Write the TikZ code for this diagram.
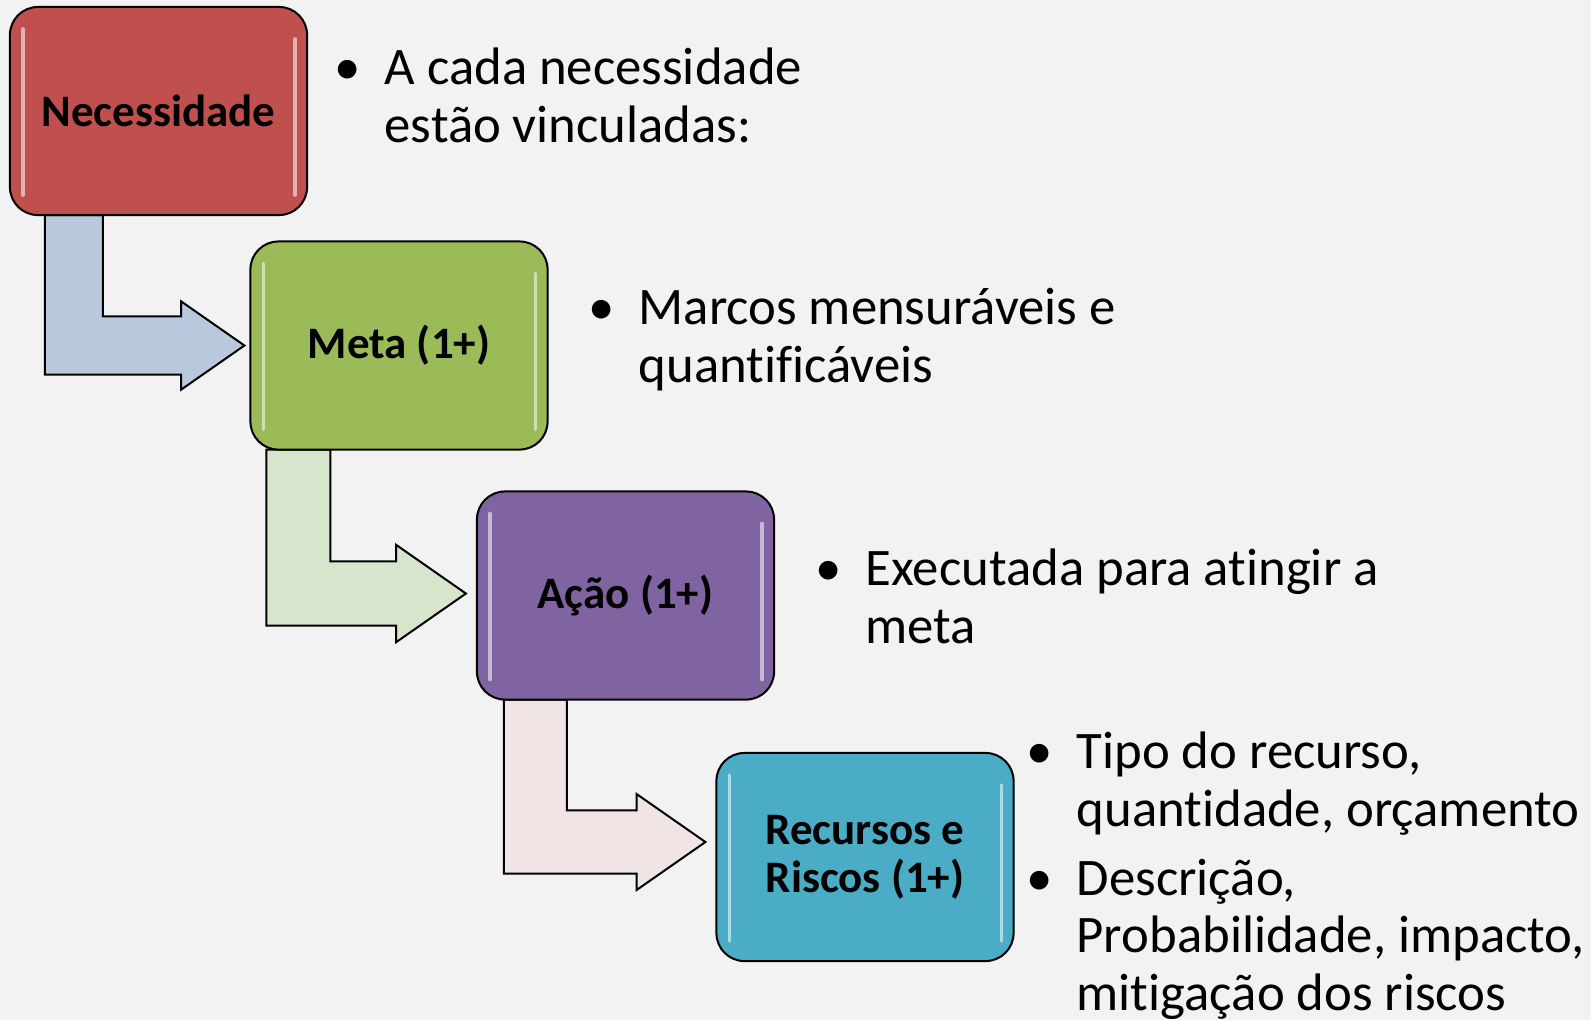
\documentclass[tikz,border=0pt]{standalone}
\usepackage{fontspec}
\setmainfont{Carlito}[Ligatures=NoCommon]
\usetikzlibrary{calc,backgrounds}

\definecolor{pagebg}{HTML}{F2F2F2}
\definecolor{necred}{HTML}{C0504D}
\definecolor{metagreen}{HTML}{9BBB59}
\definecolor{acaopurple}{HTML}{8064A2}
\definecolor{recblue}{HTML}{4BACC6}
\definecolor{arrowblue}{HTML}{B9C8DD}
\definecolor{arrowgreen}{HTML}{D7E5CC}
\definecolor{arrowpink}{HTML}{F0E4E4}

\tikzset{
    stage/.style={draw=black, line width=0.02cm, rounded corners=0.28cm,
        minimum width=2.97cm, minimum height=2.08cm, inner sep=0, outer sep=0,
        align=center, font=\fontsize{12.8}{13.65}\selectfont\bfseries,
        path picture={
            \draw [white, opacity=0.55, line width=0.035cm, line cap=round]
                ([xshift=0.13cm, yshift=-0.22cm]path picture bounding box.north west)
                -- ([xshift=0.13cm, yshift=0.2cm]path picture bounding box.south west)
                ([xshift=-0.12cm, yshift=-0.32cm]path picture bounding box.north east)
                -- ([xshift=-0.12cm, yshift=0.2cm]path picture bounding box.south east);
        }},
    % base anchor sits on the last line
    note/.style={anchor=base west, align=left, inner sep=0,
        font=\fontsize{15}{16.3}\selectfont},
    bent/.style={draw=black, line width=0.02cm, line join=miter}
}

% bullet hanging left of the text
\newcommand{\bul}{\llap{\makebox[0.74cm][c]{\textbullet}}}

% bent block arrow: from node, tip coordinate, colour, inset, shaft width
\newcommand{\bentarrow}[5]{%
    \filldraw [bent, fill=#3]
        let \p1 = (#1.south west), \p2 = (#2) in
        (\x1 + #4*0.01cm, \y1) -- (\x1 + #4*0.01cm + #5*0.01cm, \y1)
        -- (\x1 + #4*0.01cm + #5*0.01cm, \y2 + #5*0.005cm)
        -- (\x2 - #5*0.0109cm, \y2 + #5*0.005cm)
        -- (\x2 - #5*0.0109cm, \y2 + #5*0.0076cm)
        -- (\p2)
        -- (\x2 - #5*0.0109cm, \y2 - #5*0.0076cm)
        -- (\x2 - #5*0.0109cm, \y2 - #5*0.005cm)
        -- (\x1 + #4*0.01cm, \y2 - #5*0.005cm) -- cycle;
}

\begin{document}
\begin{tikzpicture}[x=0.01cm, y=-0.01cm]

    \useasboundingbox (0, 0) rectangle (1591, 1020);

    % Stages
    \node (nec) at (158.5, 111) [stage, fill=necred] {Necessidade};
    \node (meta) at (399, 345.5) [stage, fill=metagreen] {Meta (1+)};
    \node (acao) at (625.5, 595.5) [stage, fill=acaopurple] {Ação (1+)};
    \node (rec) at (865, 857) [stage, fill=recblue] {Recursos e\\Riscos (1+)};

    % Notes
    \node (note1) at (384, 142) [note] {\bul A cada necessidade\\estão vinculadas:};
    \node (note2) at (638, 382) [note] {\bul Marcos mensuráveis e\\quantificáveis};
    \node (note3) at (865, 643) [note] {\bul Executada para atingir a\\meta};
    \node (note4) at (1076, 1010) [note] {\bul Tipo do recurso,\\quantidade, orçamento\\[0.12cm]
        \bul Descrição,\\Probabilidade, impacto,\\mitigação dos riscos};

    %% Arrow tips
    \coordinate (tip1) at ($(meta.west) + (-6, 0)$);
    \coordinate (tip2) at ($(acao.west) + (-11, -2)$);
    \coordinate (tip3) at ($(rec.west) + (-11, -15)$);

    % Background and arrows
    \begin{scope}[on background layer]
        \fill [pagebg] (0, 0) rectangle (1591, 1020);
        \bentarrow{nec}{tip1}{arrowblue}{35}{58}
        \bentarrow{meta}{tip2}{arrowgreen}{16}{64}
        \bentarrow{acao}{tip3}{arrowpink}{27}{63}
    \end{scope}

\end{tikzpicture}
\end{document}
